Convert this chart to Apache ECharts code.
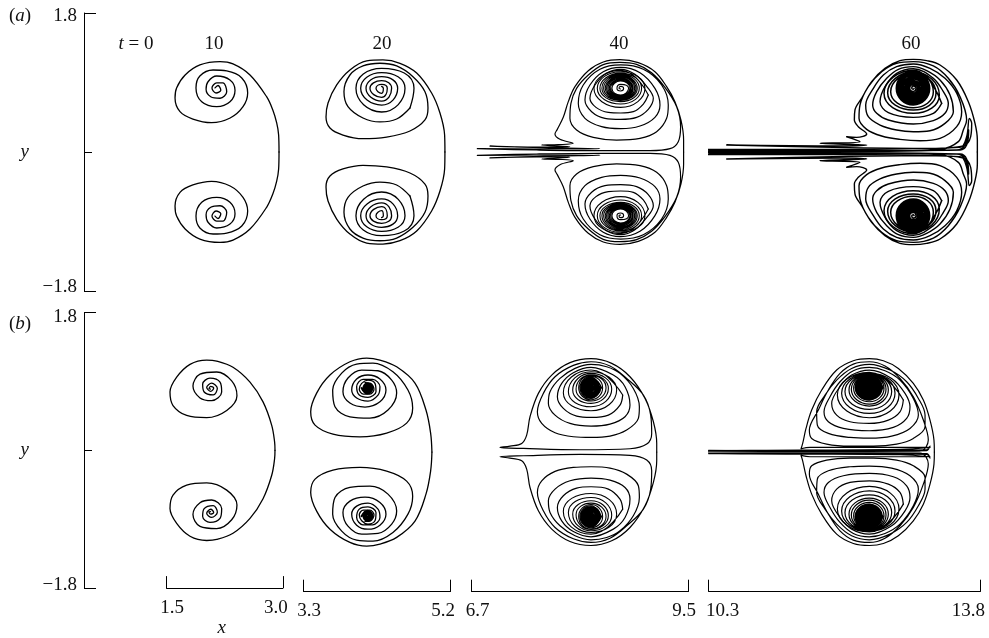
<!DOCTYPE html>
<html><head><meta charset="utf-8">
<style>html,body{margin:0;padding:0;background:#fff}#c{width:989px;height:638px}</style>
<script src="https://cdn.jsdelivr.net/npm/echarts@6/dist/echarts.min.js"></script>
</head><body><div id="c"></div>
<script>
// Upper-half vortex sheets, as [x, y]. Sheets are symmetric about y = 0.
var sheetStart = [[1.03,-1],[1.03,1]];
var a10 = [[2.95,0],[2.945,.22],[2.92,.376],[2.87,.544],[2.79,.716],[2.576,.997],[2.357,1.14],[2.19,1.17],[1.93,1.127],[1.74,.997],[1.63,.83],[1.61,.70],[1.674,.522],[1.84,.427],[2.08,.38],[2.32,.44],[2.486,.587],[2.546,.764],[2.47,.959],[2.276,1.05],[2.10,1.062],[1.93,.984],[1.88,.83],[1.954,.65],[2.147,.587],[2.318,.65],[2.383,.80],[2.318,.933],[2.147,.984],[2.035,.91],[2.01,.812],[2.07,.716],[2.19,.696],[2.276,.78],[2.228,.894],[2.147,.894],[2.086,.83],[2.138,.764],[2.20,.80],[2.164,.861],[2.125,.83]];
var a20 = [[5.128,0],[5.124,.22],[5.064,.505],[4.956,.764],[4.763,1.023],[4.547,1.149],[4.327,1.192],[4.117,1.179],[3.90,1.062],[3.729,.868],[3.617,.635],[3.591,.453],[3.642,.311],[3.81,.22],[4.069,.172],[4.375,.194],[4.676,.272],[4.87,.415],[4.909,.57],[4.87,.781],[4.715,.975],[4.504,1.114],[4.288,1.149],[4.069,1.114],[3.90,.997],[3.823,.781],[3.875,.587],[4.069,.44],[4.288,.389],[4.504,.427],[4.676,.57]];
var a20Rings = [[4.676,.57],[4.728,.824],[4.31,1.083],[3.978,.824],[4.31,.518],[4.612,.824],[4.31,1.027],[4.039,.824],[4.31,.608],[4.517,.824],[4.31,.975],[4.108,.824],[4.31,.66],[4.439,.824],[4.31,.924],[4.159,.824],[4.31,.708],[4.383,.824],[4.31,.876],[4.237,.824],[4.31,.76],[4.332,.824],[4.31,.85]];
var a40 = [[9.437,0],[9.437,.155],[9.403,.414],[9.325,.652],[9.218,.846],[9.067,1.04],[8.852,1.157],[8.615,1.196],[8.40,1.165],[8.207,1.053],[8.035,.846],[7.949,.652],[7.884,.449],[7.807,.293],[7.777,.233],[7.841,.164],[8.013,.112],[7.82,.095],[7.605,.09],[7.97,.069],[7.54,.064],[6.938,.077],[7.626,.056],[8.357,.043],[7.54,.039],[6.775,.043],[7.54,.026],[8.40,.017],[9.003,.017],[9.261,.043],[9.368,.134],[9.398,.328],[9.347,.587],[9.196,.837],[9.024,1.027],[8.83,1.135],[8.615,1.161],[8.40,1.131],[8.207,.997],[8.056,.824],[7.983,.63],[7.97,.436],[8.056,.285],[8.271,.19],[8.572,.155],[8.874,.177],[9.089,.263],[9.218,.436],[9.239,.609],
[9.153,.868],[8.917,1.071],[8.624,1.127],[8.357,1.071],[8.142,.868],[8.078,.63],[8.164,.436],[8.379,.328],[8.624,.302],[8.874,.336],[9.067,.449],[9.132,.609],
[9.067,.824],[8.874,1.027],[8.624,1.096],[8.40,1.04],[8.228,.868],[8.164,.673],[8.25,.522],[8.422,.436],[8.624,.423],[8.831,.449],[8.981,.552],[9.046,.695],
[8.981,.824],[8.809,1.006],[8.624,1.071],[8.443,1.019],[8.293,.868],[8.228,.695],[8.306,.578],[8.465,.513],[8.624,.505],[8.788,.522],[8.917,.621],[8.981,.738]];
var a40Rings = [[8.981,.738],[8.624,1.057],[8.28,.824],[8.624,.578],[8.938,.824],[8.624,1.04],[8.323,.824],[8.624,.621],[8.895,.824],[8.624,1.022],[8.357,.824],[8.624,.652],[8.865,.824],[8.624,1.009],[8.383,.824],[8.624,.669],[8.839,.824],[8.624,.996],[8.405,.824],[8.624,.682],[8.822,.824],[8.624,.983],[8.426,.824],[8.624,.695],[8.805,.824],[8.624,.971],[8.443,.824],[8.624,.704],[8.787,.824],[8.624,.958],[8.461,.824],[8.624,.712],[8.774,.824],[8.624,.945],[8.478,.824],[8.624,.721],[8.757,.824],[8.624,.932],[8.495,.824],[8.624,.729],[8.744,.824],[8.624,.919],[8.512,.824],[8.624,.738],[8.727,.824],[8.624,.876],[8.577,.824],[8.624,.79],[8.663,.824],[8.624,.85],[8.603,.824],[8.624,.815]];
var a60 = [[13.762,0],[13.762,.155],[13.732,.371],[13.646,.652],[13.496,.932],[13.281,1.127],[13.109,1.183],[12.937,1.2],[12.765,1.183],[12.572,1.083],[12.40,.911],[12.271,.695],[12.185,.544],[12.177,.414],[12.228,.328],[12.336,.233],[12.207,.19],[12.078,.198],[12.25,.134],[11.734,.112],[12.336,.09],[11.992,.077],[10.532,.09],[11.906,.06],[13.195,.047],[13.581,.077],[13.676,.198],[13.689,.371],[13.659,.436],[13.624,.198],[13.539,.06],[11.906,.034],[10.295,.034],[11.906,.026],[10.295,.021],[11.906,.017],[13.539,.026],[13.624,.09],[13.65,.285],[13.603,.09],[13.496,.026],[11.906,.008],[10.295,.008],[12.336,.012],[13.281,.034],[13.517,.134],[13.581,.285],[13.624,.414],
[13.539,.716],[13.388,.954],[13.195,1.114],[12.937,1.17],[12.722,1.148],[12.529,1.04],[12.357,.846],[12.25,.609],[12.237,.436],[12.336,.293],[12.529,.207],[12.765,.164],[13.023,.146],[13.281,.177],[13.496,.328],[13.56,.522],
[13.496,.76],[13.345,.954],[13.152,1.083],[12.937,1.14],[12.722,1.105],[12.551,.997],[12.422,.824],[12.323,.609],[12.357,.457],[12.508,.349],[12.722,.285],[12.937,.263],[13.152,.276],[13.345,.371],[13.453,.522],
[13.41,.738],[13.281,.932],[13.109,1.053],[12.937,1.105],[12.744,1.071],[12.594,.954],[12.465,.781],[12.413,.609],[12.465,.501],[12.615,.414],[12.937,.362],[13.195,.406],[13.345,.501],[13.388,.63],
[13.324,.781],[13.195,.954],[12.937,1.079],[12.722,1.019],[12.572,.846],[12.508,.652],[12.615,.509],[12.937,.449],[13.195,.501],[13.302,.63]];
var a60Rings = [[13.302,.63],[12.937,1.058],[12.559,.76],[12.937,.501],[13.272,.738],[12.937,1.036],[12.606,.768],[12.937,.544],[13.229,.76],[12.937,1.019],[12.645,.781],[12.937,.574],[13.195,.781],
[12.937,1.048],[12.717,.824],[12.937,.609],[13.148,.824],[12.937,1.031],[12.735,.824],[12.937,.626],[13.131,.824],[12.937,1.014],[12.752,.824],[12.937,.643],[13.114,.824],[12.937,.996],[12.769,.824],[12.937,.66],[13.096,.824],[12.937,.979],[12.786,.824],[12.937,.678],[13.079,.824],[12.937,.962],[12.804,.824],[12.937,.695],[13.062,.824],[12.937,.944],[12.821,.824],[12.937,.712],[13.044,.824],[12.937,.927],[12.838,.824],[12.937,.73],[13.027,.824],[12.937,.91],[12.856,.824],[12.937,.747],[13.01,.824],[12.937,.892],[12.873,.824],[12.937,.764],[12.992,.824],[12.937,.875],[12.89,.824],[12.937,.784],[12.972,.824],[12.937,.854],[12.917,.824],[12.937,.812],[12.947,.824]];
var b10 = [[2.898,0],[2.893,.11],[2.856,.326],[2.744,.632],[2.576,.89],[2.357,1.084],[2.147,1.165],[2.018,1.178],[1.803,1.123],[1.631,.955],[1.545,.761],[1.584,.585],[1.76,.455],[2.018,.426],[2.276,.52],[2.408,.714],[2.34,.907],[2.147,1.023],[1.932,.994],[1.841,.839],[1.932,.684],[2.082,.649],[2.211,.761],[2.19,.89],[2.06,.942],[1.966,.865],[1.983,.765],[2.103,.723],[2.155,.809],[2.082,.877],[2.018,.822],[2.07,.77],[2.108,.813],[2.07,.835],[2.048,.806],[2.067,.80]];
var b20 = [[4.96,0],[4.943,.245],[4.883,.542],[4.741,.89],[4.504,1.1],[4.288,1.187],[4.117,1.213],[3.90,1.165],[3.642,.994],[3.47,.761],[3.393,.52],[3.449,.348],[3.681,.232],[4.03,.197],[4.375,.245],[4.633,.374],[4.711,.568],[4.65,.8],[4.456,1.036],[4.198,1.148],[3.987,1.135],[3.794,1.019],[3.677,.8],[3.707,.585],[3.90,.455],[4.159,.439],[4.392,.542],[4.504,.761],[4.44,.929],[4.263,1.049],[4.052,1.058],[3.875,.955],[3.81,.778],[3.90,.632],[4.095,.581],[4.288,.649],[4.366,.8],[4.288,.942],[4.133,.994],[3.987,.942],[3.923,.8],[3.987,.697],[4.133,.658],[4.263,.735],[4.288,.843],[4.194,.938],[4.069,.938],[3.987,.843],[4.021,.735],[4.133,.706],[4.237,.778],[4.224,.886],[4.133,.929],[4.052,.886],[4.021,.809],[4.073,.748],[4.159,.748],[4.211,.809],[4.168,.886],[4.095,.894]];
var b20Core = [[4.05,.826],[4.127,.755],[4.192,.826],[4.127,.885],[4.074,.826],[4.127,.779],[4.168,.826],[4.127,.861],[4.098,.826],[4.127,.803],[4.144,.826],[4.127,.837],[4.12,.826]];
var b40 = [[9.09,0],[9.09,.112],[9.047,.391],[8.939,.692],[8.745,.972],[8.509,1.144],[8.242,1.204],[7.971,1.153],[7.735,.993],[7.563,.757],[7.455,.456],[7.412,.219],[7.348,.112],[7.197,.077],[7.068,.06],[7.369,.047],[8.10,.03],[8.745,.043],[8.961,.103],[9.025,.241],[9.012,.477],[8.918,.735],[8.702,.95],[8.487,1.11],[8.242,1.165],[8.014,1.118],[7.778,.972],[7.627,.757],[7.55,.52],[7.606,.37],[7.778,.249],[8.014,.198],[8.242,.189],[8.487,.206],[8.702,.284],[8.853,.434],[8.866,.585],
[8.788,.821],[8.616,1.015],[8.444,1.101],[8.242,1.131],[8.036,1.079],[7.842,.95],[7.713,.778],[7.692,.628],[7.778,.477],[7.971,.37],[8.242,.335],[8.487,.361],[8.681,.456],[8.745,.606],
[8.681,.843],[8.53,.993],[8.242,1.092],[8.014,1.024],[7.864,.886],[7.808,.714],[7.885,.563],[8.057,.464],[8.242,.447],[8.466,.477],[8.616,.606],[8.651,.735]];
var b40Rings = [[8.651,.735],[8.242,1.058],[7.885,.765],[8.242,.533],[8.573,.8],[8.242,1.036],[7.95,.778],[8.242,.585],[8.509,.813],[8.242,1.015],[8.006,.8],[8.242,.628],[8.466,.821],[8.242,.998],[8.049,.809],[8.242,.658],[8.436,.83],[8.242,.993],[8.083,.83],[8.242,.675],[8.392,.83],[8.242,.976],[8.10,.83],[8.242,.692],[8.375,.83]];
var b40Core = [[8.375,.83],[8.242,.965],[8.112,.83],[8.242,.705],[8.362,.83],[8.242,.945],[8.132,.83],[8.242,.725],[8.342,.83],[8.242,.925],[8.152,.83],[8.242,.745],[8.322,.83],[8.242,.905],[8.172,.83],[8.242,.765],[8.302,.83],[8.242,.885],[8.192,.83],[8.242,.785],[8.282,.83],[8.242,.865],[8.212,.83],[8.242,.805],[8.262,.83],[8.242,.845],[8.232,.83],[8.242,.825]];
var b60 = [[13.208,0],[13.203,.155],[13.152,.413],[13.066,.671],[12.937,.886],[12.744,1.079],[12.551,1.178],[12.37,1.204],[12.164,1.178],[11.949,1.058],[11.756,.8],[11.627,.542],[11.554,.305],[11.511,.112],[11.49,.043],[11.606,.06],[12.765,.06],[13.066,.06],[13.152,.06],[12.765,.034],[11.477,.026],[10.295,.021],[11.477,.017],[13.109,.03],[13.152,.077],[13.109,.02],[11.477,.009],[10.295,.013],[11.477,.009],[13.023,.013],[13.13,.155],
[13.066,.413],[12.937,.714],[12.765,.95],[12.572,1.11],[12.37,1.165],[12.164,1.135],[11.992,1.015],[11.842,.8],[11.713,.542],[11.597,.284],[11.627,.176],[11.82,.103],[12.121,.077],[12.422,.077],[12.722,.103],[12.937,.176],[13.088,.327],[13.088,.477],
[13.002,.692],[12.851,.907],[12.636,1.058],[12.37,1.131],[12.142,1.079],[11.949,.929],[11.799,.735],[11.691,.52],[11.70,.348],[11.842,.241],[12.121,.189],[12.37,.18],[12.658,.206],[12.894,.305],[13.002,.477],
[12.937,.692],[12.765,.929],[12.572,1.049],[12.37,1.092],[12.164,1.049],[11.992,.907],[11.863,.714],[11.786,.52],[11.842,.391],[12.035,.305],[12.37,.275],[12.679,.318],[12.851,.434],[12.894,.585],
[12.83,.757],[12.658,.95],[12.37,1.058],[12.142,.993],[11.992,.843],[11.885,.628],[11.949,.477],[12.121,.391],[12.37,.37],[12.615,.413],[12.765,.52],[12.808,.671]];
var b60Rings = [[12.808,.671],[12.37,1.028],[11.958,.735],[12.37,.443],[12.752,.735],[12.37,1.02],[12.013,.76],[12.37,.499],[12.701,.76],[12.37,1.012],[12.056,.78],[12.37,.551],[12.658,.78],[12.37,1.006],[12.108,.80],[12.37,.594],[12.615,.80],[12.37,1.0],[12.138,.81],[12.37,.619],[12.585,.81],[12.37,.994],[12.168,.82],[12.37,.649],[12.559,.82],[12.37,.988],[12.19,.829],[12.37,.67],[12.54,.829]];
var b60Core = [[12.54,.829],[12.37,.98],[12.2,.832],[12.37,.685],[12.525,.832],[12.37,.975],[12.23,.84],[12.37,.71],[12.5,.84],[12.37,.968],[12.252,.843],[12.37,.732],[12.474,.843],[12.37,.94],[12.28,.843],[12.37,.76],[12.446,.843],[12.37,.912],[12.308,.843],[12.37,.788],[12.418,.843],[12.37,.884],[12.336,.843],[12.37,.816],[12.39,.843],[12.37,.856],[12.37,.843]];

var xRanges = [[1.5,3.0],[3.3,5.2],[6.7,9.5],[10.3,13.8]];
var xTickText = [['1.5','3.0'],['3.3','5.2'],['6.7','9.5'],['10.3','13.8']];
var xLabelShift = [[11,-14],[11,-15],[12,-9],[28,-24]];
var yEnds = [-1.8,1.8];
var timeLabels = ['{i|t} = 0','10','20','40','60'];

var FONT = '"Liberation Serif","Times New Roman",serif', FS = 19, INK = '#111';
var frameLeft = [166.5,303.5,471.5,708.7], frameWidth = [116.4,147,217,271.6];
var panelTop = [13,312.5], panelHeight = [278,279.2];
var axisLineStyle = {color:'#000',width:1};

var grid=[],xAxis=[],yAxis=[],series=[];
[0,1].forEach(function(p){
  xRanges.forEach(function(r,f){
    var g=grid.length;
    grid.push({left:frameLeft[f],width:frameWidth[f],top:panelTop[p],height:panelHeight[p],containLabel:false});
    var ax={gridIndex:g,type:'value',min:r[0],max:r[1],position:'bottom',show:p===1,
      axisLine:{show:true,onZero:false,lineStyle:axisLineStyle},
      axisTick:{show:true,inside:true,length:12,lineStyle:axisLineStyle,customValues:r},
      splitLine:{show:false},
      axisLabel:{show:true,customValues:r,margin:10,hideOverlap:false,showMinLabel:true,showMaxLabel:true,
        formatter:function(v){return v===r[0]?'{l|'+xTickText[f][0]+'}':'{m|'+xTickText[f][1]+'}';},
        rich:{
          l:{fontFamily:FONT,fontSize:FS,color:INK,padding:[0,0,0,xLabelShift[f][0]]},
          m:{fontFamily:FONT,fontSize:FS,color:INK,padding:[0,-xLabelShift[f][1],0,0]}
        }}};
    if(p===1&&f===0){ax.name='x';ax.nameLocation='middle';ax.nameGap=28;ax.nameTextStyle={fontFamily:FONT,fontSize:FS,fontStyle:'italic',color:INK,padding:[0,6,0,0]};}
    xAxis.push(ax);
    yAxis.push(f===0?{gridIndex:g,type:'value',min:-1.8,max:1.8,position:'left',offset:82.5,
      axisLine:{show:true,onZero:false,lineStyle:axisLineStyle},
      axisTick:{show:true,inside:true,length:12,lineStyle:axisLineStyle,customValues:yEnds},
      splitLine:{show:false},
      axisLabel:{show:true,customValues:yEnds,margin:7,showMinLabel:true,showMaxLabel:true,
        formatter:function(v){return v>0?'{t|1.8}':'{u|\u22121.8}';},
        rich:{t:{fontFamily:FONT,fontSize:FS,color:INK,padding:[p===0?6:10,0,0,0]},
              u:{fontFamily:FONT,fontSize:FS,color:INK,padding:[0,0,7,0]}}},
      name:'y',nameLocation:'middle',nameRotate:0,nameGap:55,
      nameTextStyle:{fontFamily:FONT,fontSize:FS,fontStyle:'italic',color:INK,padding:[6,0,0,0]}
    }:{gridIndex:g,type:'value',min:-1.8,max:1.8,show:false});
  });
});
[0,1].forEach(function(p){
  yAxis.push({gridIndex:p*4,type:'value',min:-1.8,max:1.8,position:'left',offset:82.5,
    axisLine:{show:false,onZero:false},axisLabel:{show:false},splitLine:{show:false},
    axisTick:{show:true,inside:true,length:8,lineStyle:axisLineStyle,customValues:[0]}});
});
function addSheet(pts,g,width,smooth){
  [1,-1].forEach(function(sign){
    series.push({type:'line',xAxisIndex:g,yAxisIndex:g,showSymbol:false,symbol:'none',smooth:smooth,clip:false,animation:false,silent:true,
      lineStyle:{color:'#000',width:width,join:'round',cap:'round'},
      data:pts.map(function(q){return [q[0],sign*q[1]];})});
  });
}
function addStart(g){
  series.push({type:'line',xAxisIndex:g,yAxisIndex:g,showSymbol:false,symbol:'none',clip:false,animation:false,silent:true,
    lineStyle:{color:'#000',width:1},data:sheetStart});
}
addStart(0);addStart(4);
var OUTER=0.36, RING=0.55;
addSheet(a10,0,1.3,OUTER);addSheet(a20,1,1.3,OUTER);addSheet(a20Rings,1,1.3,RING);
addSheet(a40,2,1.2,OUTER);addSheet(a40Rings,2,1.1,RING);addSheet(a60,3,1.4,OUTER);addSheet(a60Rings,3,1.5,RING);
addSheet(b10,4,1.3,OUTER);addSheet(b20,5,1.3,OUTER);addSheet(b20Core,5,1.9,RING);
addSheet(b40,6,1.2,OUTER);addSheet(b40Rings,6,1.1,RING);addSheet(b40Core,6,1.7,RING);
addSheet(b60,7,1.2,OUTER);addSheet(b60Rings,7,1.2,RING);addSheet(b60Core,7,2.8,RING);

function txt(s,x,y,align){
  return {type:'text',x:x,y:y,silent:true,style:{text:s,x:0,y:0,align:align||'center',verticalAlign:'middle',fontFamily:FONT,fontSize:FS,fill:INK,
    rich:{i:{fontFamily:FONT,fontSize:FS,fontStyle:'italic',fill:INK,color:INK}}}};
}
var chart=echarts.init(document.getElementById('c'),null,{renderer:'canvas'});
chart.setOption({animation:false,backgroundColor:'#fff',grid:grid,xAxis:xAxis,yAxis:yAxis,series:series,
  graphic:[txt('({i|a})',20,16),txt('({i|b})',20,324),
    txt(timeLabels[0],136,44),txt(timeLabels[1],214,44),txt(timeLabels[2],382,44),txt(timeLabels[3],619,44),txt(timeLabels[4],911,44)]});
</script></body></html>
